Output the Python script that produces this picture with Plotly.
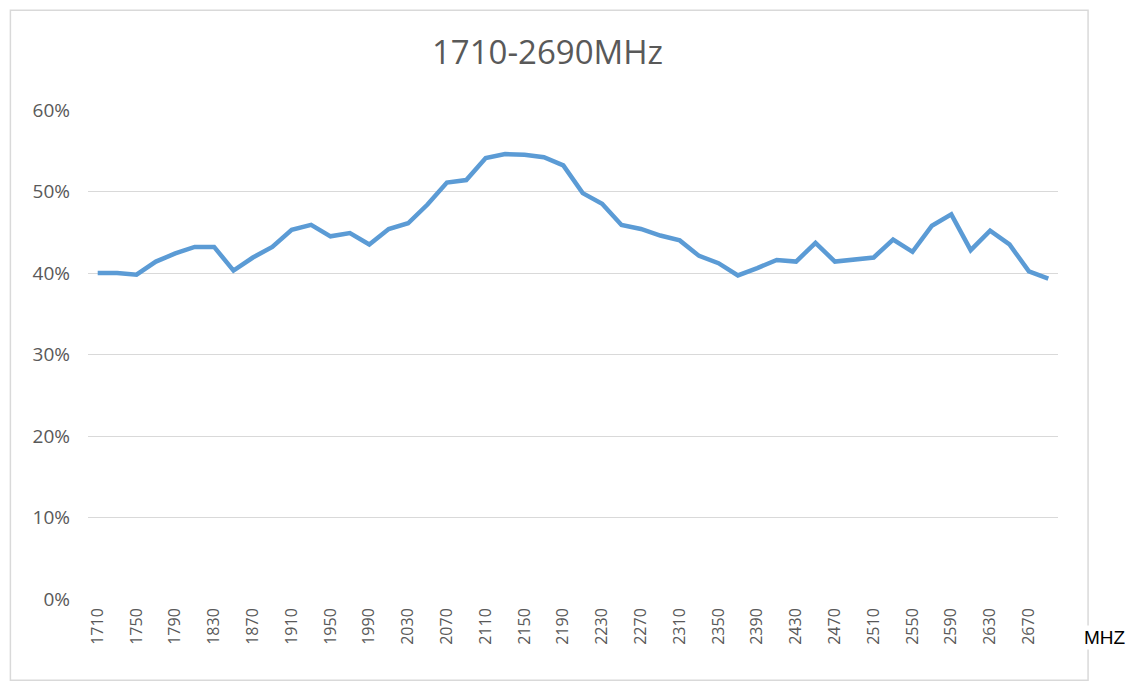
import plotly.graph_objects as go

# frequency points (MHz), one every 20 MHz
freqs = [str(f) for f in range(1710, 2691, 20)]
# efficiency (%)
efficiency = [
    40.0, 40.0, 39.8, 41.4, 42.4, 43.2, 43.2, 40.3, 41.9, 43.2,
    45.3, 45.9, 44.5, 44.9, 43.5, 45.4, 46.1, 48.4, 51.1, 51.4,
    54.1, 54.6, 54.5, 54.2, 53.2, 49.8, 48.5, 45.9, 45.4, 44.6,
    44.0, 42.1, 41.2, 39.7, 40.6, 41.6, 41.4, 43.7, 41.4, 41.6,
    41.9, 44.1, 42.6, 45.8, 47.2, 42.8, 45.2, 43.5, 40.2, 39.3,
]
shown_ticks = freqs[::2]
y_ticks = [0, 10, 20, 30, 40, 50, 60]

fig = go.Figure()
fig.add_trace(go.Scatter(
    x=freqs, y=[v / 100 for v in efficiency],
    mode='lines', line=dict(color='#5B9BD5', width=4.5),
    showlegend=False
))

# the page body adds an 8px offset, so margins are shifted to compensate
fig.update_layout(
    width=1143, height=684,
    margin=dict(l=80, r=93, t=102, b=93),
    paper_bgcolor='white', plot_bgcolor='white',
    font=dict(family='Open Sans', color='#595959'),
    title=dict(text='1710-2690MHz', x=0.472, xref='container', xanchor='center',
               y=0.935, yanchor='middle', font=dict(size=33, color='#595959')),
    xaxis=dict(type='category', range=[-0.5, len(freqs) - 0.5],
               tickvals=shown_ticks, ticktext=shown_ticks,
               tickangle=-90, tickfont=dict(size=16), showgrid=False,
               showline=False, ticks='', ticklabelstandoff=5),
    yaxis=dict(range=[0, 0.6], tickvals=[t / 100 for t in y_ticks],
               ticktext=[f'{t}%' for t in y_ticks], tickfont=dict(size=19),
               showgrid=True, gridcolor='#D9D9D9', gridwidth=1,
               zeroline=False, showline=False, ticks='', ticklabelstandoff=17),
    shapes=[dict(type='rect', xref='paper', yref='paper',
                 x0=-0.080, x1=1.031, y0=-0.166, y1=1.204,
                 line=dict(color='#D9D9D9', width=1.5), layer='below')],
    annotations=[dict(text='MHZ', xref='paper', yref='paper', x=1.025, y=-0.078,
                      xanchor='left', yanchor='middle', showarrow=False,
                      bgcolor='white',
                      font=dict(family='Liberation Sans', size=19, color='black'))],
)

fig.write_html("out.html")
